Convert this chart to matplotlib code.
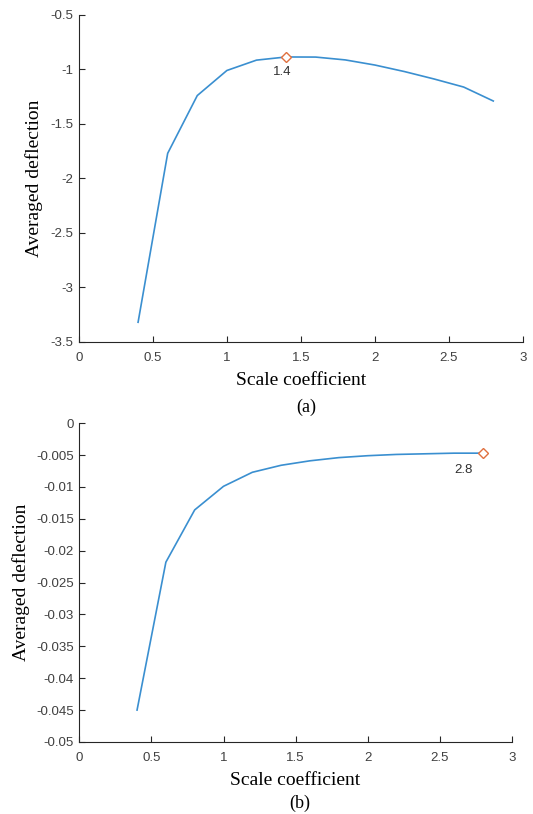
import numpy as np
import matplotlib
matplotlib.use("Agg")
import matplotlib.pyplot as plt

# scale coefficients (shared x values)
scale = [0.4, 0.6, 0.8, 1.0, 1.2, 1.4, 1.6, 1.8, 2.0, 2.2, 2.4, 2.6, 2.8]
# (a) averaged deflection
defl_a = [-3.32, -1.77, -1.24, -1.01, -0.915, -0.886, -0.887, -0.913, -0.96,
          -1.02, -1.088, -1.162, -1.29]
# (b) averaged deflection
defl_b = [-0.045, -0.0218, -0.0136, -0.0099, -0.0077, -0.0066, -0.0059,
          -0.0054, -0.0051, -0.0049, -0.0048, -0.0047, -0.0047]

peak_a = (1.4, -0.886)
peak_b = (2.8, -0.0047)

LINE = "#3a8fd0"
MARK = "#e0703f"
TICK_COL = "#404040"
SERIF = ["Liberation Serif", "DejaVu Serif"]
SANS = ["Liberation Sans", "DejaVu Sans"]

fig = plt.figure(figsize=(5.33, 8.14), dpi=100)
ax1 = fig.add_axes([0.148, 0.580, 0.833, 0.4017])
ax2 = fig.add_axes([0.149, 0.0885, 0.811, 0.3916])


def style(ax, ylpad):
    for s in ["top", "right"]:
        ax.spines[s].set_visible(False)
    for s in ["left", "bottom"]:
        ax.spines[s].set_color("#262626")
        ax.spines[s].set_linewidth(0.8)
    ax.tick_params(direction="in", length=4, width=0.8, colors="#262626",
                   labelcolor=TICK_COL, labelsize=9.5)
    ax.tick_params(axis="x", pad=7)
    ax.tick_params(axis="y", pad=4)
    for lab in ax.get_xticklabels() + ax.get_yticklabels():
        lab.set_family(SANS)
    ax.set_xlabel("Scale coefficient", family=SERIF, fontsize=14, labelpad=6)
    ax.set_ylabel("Averaged deflection", family=SERIF, fontsize=14,
                  labelpad=ylpad)


# (a)
ax1.plot(scale, defl_a, color=LINE, lw=1.2)
ax1.plot(*peak_a, marker="D", ms=5, mfc="white", mec=MARK, mew=1.0)
ax1.annotate("1.4", peak_a, xytext=(-3, -13), textcoords="offset points",
             ha="center", fontsize=9.5, family=SANS, color="#303030")
ax1.set_xlim(0, 3)
ax1.set_ylim(-3.5, -0.5)
ax1.set_xticks([0, 0.5, 1, 1.5, 2, 2.5, 3])
ax1.set_xticklabels(["0", "0.5", "1", "1.5", "2", "2.5", "3"])
ax1.set_yticks([-3.5, -3, -2.5, -2, -1.5, -1, -0.5])
ax1.set_yticklabels(["-3.5", "-3", "-2.5", "-2", "-1.5", "-1", "-0.5"])
style(ax1, 5)

# (b)
ax2.plot(scale, defl_b, color=LINE, lw=1.2)
ax2.plot(*peak_b, marker="D", ms=5, mfc="white", mec=MARK, mew=1.0)
ax2.annotate("2.8", peak_b, xytext=(-14, -14), textcoords="offset points",
             ha="center", fontsize=9.5, family=SANS, color="#303030")
ax2.set_xlim(0, 3)
ax2.set_ylim(-0.05, 0)
ax2.set_xticks([0, 0.5, 1, 1.5, 2, 2.5, 3])
ax2.set_xticklabels(["0", "0.5", "1", "1.5", "2", "2.5", "3"])
yt = [-0.05, -0.045, -0.04, -0.035, -0.03, -0.025, -0.02, -0.015, -0.01, -0.005, 0]
ax2.set_yticks(yt)
ax2.set_yticklabels([("%g" % v) for v in yt])
style(ax2, 4.5)

fig.text(0.574, 1 - 407 / 814, "(a)", family=SERIF, fontsize=13,
         ha="center", va="center")
fig.text(0.563, 1 - 803 / 814, "(b)", family=SERIF, fontsize=13,
         ha="center", va="center")

fig.savefig("out.png", dpi=100)
